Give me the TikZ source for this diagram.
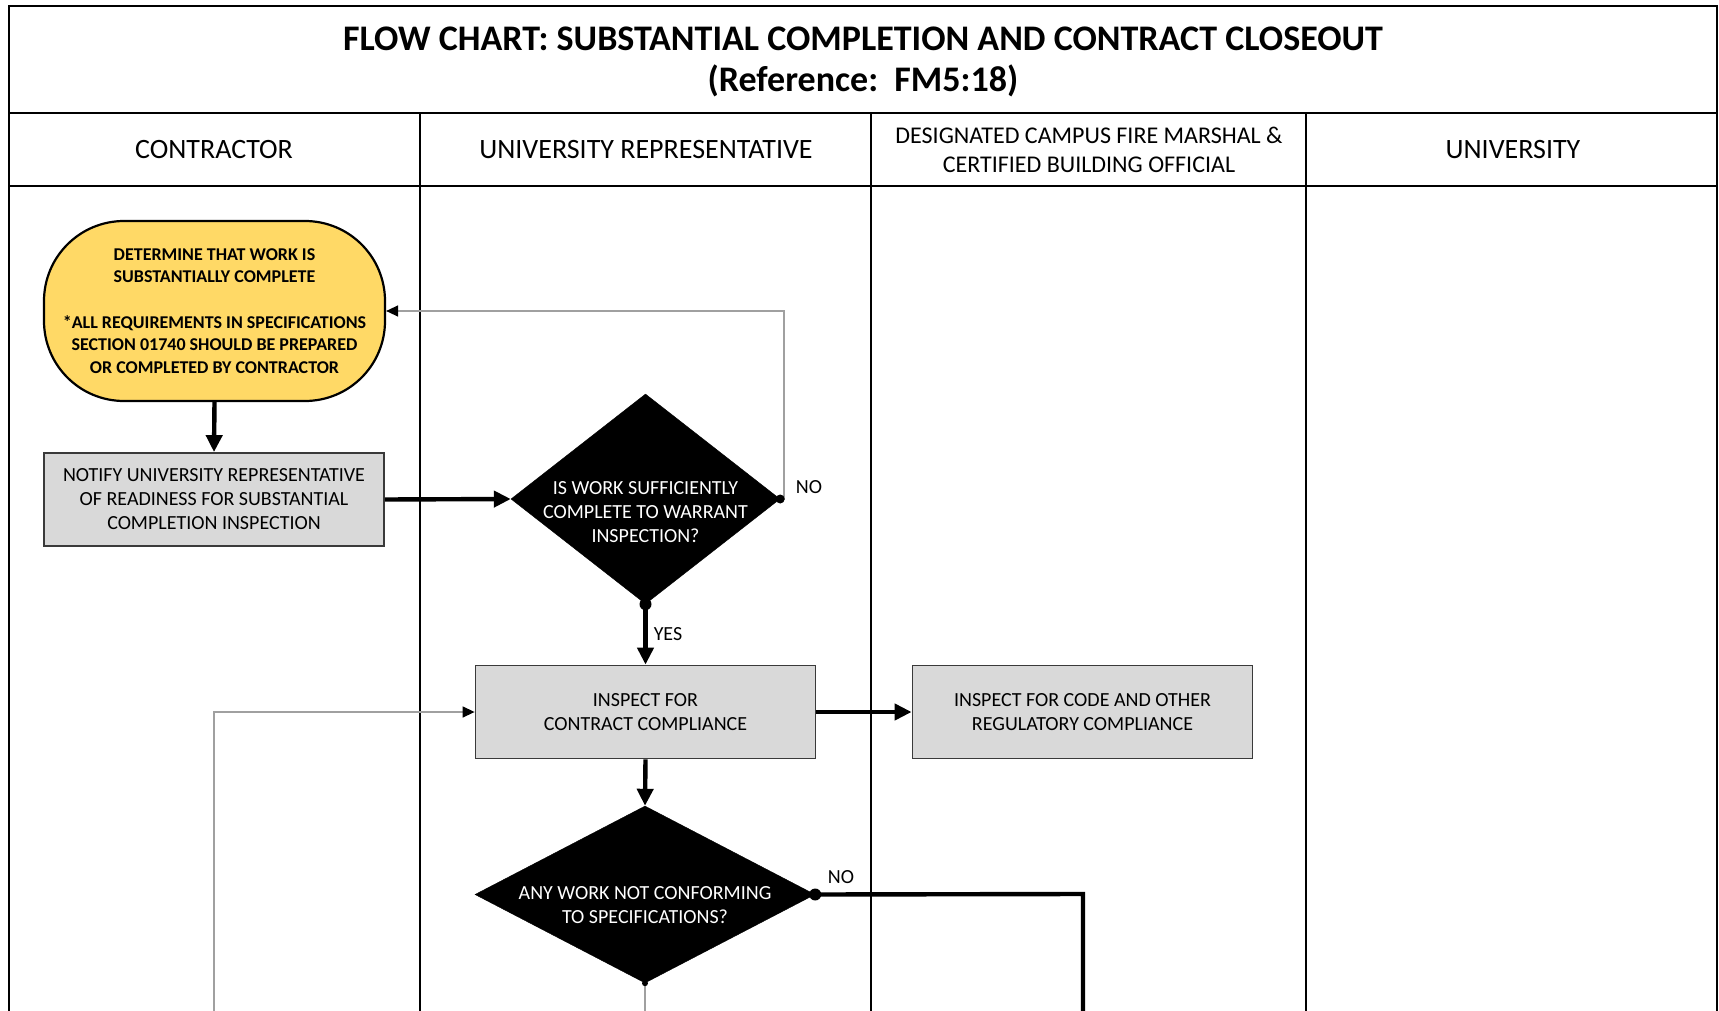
\documentclass[tikz,border=0pt]{standalone}
\usepackage{fontspec}
\setmainfont{Carlito}
\usetikzlibrary{shapes.geometric,arrows.meta}
\definecolor{gold}{HTML}{FFD966}
\definecolor{boxgray}{HTML}{D9D9D9}
\definecolor{edgegray}{HTML}{3A3A3A}
\definecolor{thingray}{HTML}{A0A0A0}
\begin{document}
\begin{tikzpicture}[x=1pt,y=-1pt,
  hline/.style={line width=2.6pt},
  lane/.style={line width=1.3pt},
  procbox/.style={rectangle, draw=edgegray, fill=boxgray, line width=1.8pt,
    minimum width=340pt, minimum height=93pt, align=center, inner sep=0pt,
    font=\fontsize{20}{24}\selectfont},
  termbox/.style={rectangle, rounded corners=80pt, draw=black, fill=gold, line width=2.2pt,
    minimum width=341pt, minimum height=180pt, align=center, inner sep=0pt,
    font=\bfseries\fontsize{18}{22.6}\selectfont},
  decision/.style={diamond, fill=black, draw=black, inner sep=0pt},
  dtext/.style={text=white, align=center, font=\fontsize{20}{24}\selectfont},
  heading/.style={align=center, font=\fontsize{28}{30}\selectfont},
  flowlabel/.style={font=\fontsize{20}{22}\selectfont},
  thickarrow/.style={line width=4.4pt, -{Triangle[length=17pt,width=16pt]}},
  thickline/.style={line width=4.4pt},
  thinarrow/.style={draw=thingray, line width=1.4pt, -{Triangle[length=12pt,width=11pt,color=black]}},
  thinline/.style={draw=thingray, line width=1.4pt},
  tipdot/.style={circle, fill=black, inner sep=0pt, minimum size=12pt}
]
\useasboundingbox (0,0) rectangle (1719,1011);
\fill[white] (0,0) rectangle (1719,1011);

% frame and lanes
\draw[lane] (9,1011) -- (9,6);
\draw[lane] (1717,1011) -- (1717,6);
\draw[hline] (8,6) -- (1718,6);
\draw[hline] (8,113) -- (1718,113);
\draw[hline] (8,186) -- (1718,186);
\draw[lane] (420,113) -- (420,1011);
\draw[lane] (871,113) -- (871,1011);
\draw[lane] (1306,113) -- (1306,1011);

% title
\node[font=\bfseries\fontsize{36}{40}\selectfont] (title) at (863,39) {FLOW CHART: SUBSTANTIAL COMPLETION AND CONTRACT CLOSEOUT};
\node[font=\bfseries\fontsize{36}{40}\selectfont] (ref) at (863,81) {(Reference:\ \ FM5:18)};

% headings
\node[heading] (h1) at (214,150) {CONTRACTOR};
\node[heading] (h2) at (646,150) {UNIVERSITY REPRESENTATIVE};
\node[heading, font=\fontsize{24}{29}\selectfont] (h3) at (1089,150) {DESIGNATED CAMPUS FIRE MARSHAL \&\\CERTIFIED BUILDING OFFICIAL};
\node[heading] (h4) at (1513,150) {UNIVERSITY};

% nodes
\node[termbox] (start) at (214.5,311) {DETERMINE THAT WORK IS\\SUBSTANTIALLY COMPLETE\\[23pt]*ALL REQUIREMENTS IN SPECIFICATIONS\\SECTION 01740 SHOULD BE PREPARED\\OR COMPLETED BY CONTRACTOR};
\node[procbox] (notify) at (214,499.5) {NOTIFY UNIVERSITY REPRESENTATIVE\\OF READINESS FOR SUBSTANTIAL\\COMPLETION INSPECTION};
\node[decision, minimum width=269pt, minimum height=210pt] (d1) at (645.5,499) {};
\node[dtext] (d1t) at (645.5,512) {IS WORK SUFFICIENTLY\\COMPLETE TO WARRANT\\INSPECTION?};
\node[procbox] (inspect) at (645.5,712) {INSPECT FOR\\CONTRACT COMPLIANCE};
\node[procbox] (code) at (1082.5,712) {INSPECT FOR CODE AND OTHER\\REGULATORY COMPLIANCE};
\node[decision, minimum width=340pt, minimum height=177pt] (d2) at (645,894.5) {};
\node[dtext] (d2t) at (645,905) {ANY WORK NOT CONFORMING\\TO SPECIFICATIONS?};

% helper coordinates
\coordinate (noUp) at (784,311);
\coordinate (noRight) at (1083,894);
\coordinate (noDown) at (1083,1011);
\coordinate (d2Down) at (645,1011);
\coordinate (backBottom) at (214,1011);
\coordinate (backCorner) at (214,712);

% connectors
\draw[thickarrow] (start.south) -- (notify.north);
\draw[thickarrow] (notify.east) -- (d1.west);
\draw[thinarrow] (d1.east) -| (noUp) -- (start.east |- noUp);
\node[tipdot, minimum size=9pt] (dot1) at (d1.east) {};
\draw[thickarrow] (d1.south) -- (inspect.north);
\node[tipdot] (dot2) at (d1.south) {};
\draw[thickarrow] (inspect.east) -- (code.west);
\draw[thickarrow] (inspect.south) -- (d2.north);
\draw[thickline] (d2.east) -- (noRight) -- (noDown);
\node[tipdot] (dot3) at (d2.east) {};
\draw[thinline] (d2.south) -- (d2Down);
\node[tipdot, minimum size=6pt] (dot4) at (d2.south) {};
\draw[thinarrow] (backBottom) -- (backCorner) -- (inspect.west);

% labels
\node[flowlabel] (lno1) at (809,487) {NO};
\node[flowlabel] (lyes) at (668,634) {YES};
\node[flowlabel] (lno2) at (841,877) {NO};
\end{tikzpicture}
\end{document}
